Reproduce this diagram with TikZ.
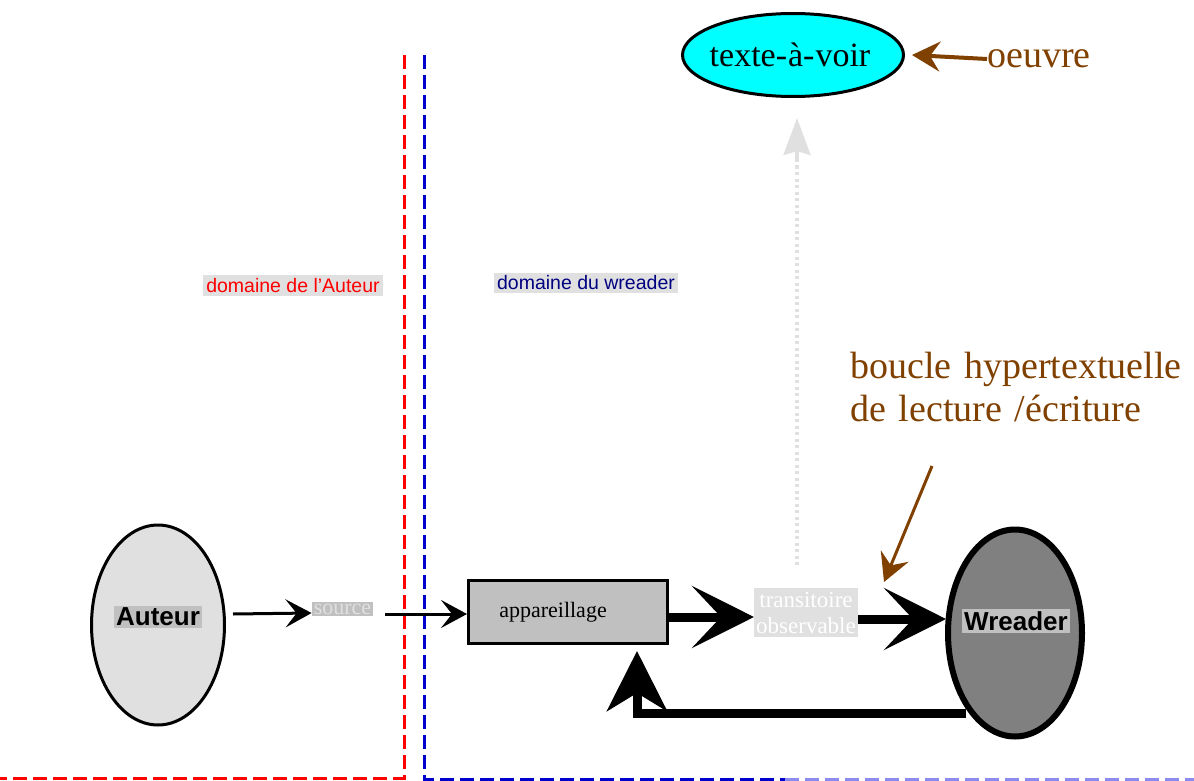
\documentclass[tikz,border=0pt]{standalone}
\usepackage{fontspec}
\setmainfont{Liberation Serif}
\setsansfont{Liberation Sans}
\usetikzlibrary{arrows.meta,shapes.geometric,calc}
\definecolor{lightg}{HTML}{E0E0E0}
\definecolor{midg}{HTML}{C0C0C0}
\definecolor{darkg}{HTML}{808080}
\definecolor{brun}{HTML}{804000}
\definecolor{marine}{HTML}{000080}
\definecolor{bleu}{HTML}{0000CC}
\definecolor{bleupale}{HTML}{8C8CF0}
\definecolor{turquoise}{HTML}{00FFFF}
\newcommand{\fsz}[1]{\fontsize{#1}{#1}\selectfont}
\tikzset{
  frontier/.style={line width=3pt, dash pattern=on 14pt off 6pt},
  thinflow/.style={line width=3pt, -{Stealth[length=26pt,width=28pt,inset=11pt]}},
  thickflow/.style={line width=9pt, -{Stealth[length=62pt,width=62pt,inset=29pt]}},
  backflow/.style={line width=9pt, -{Stealth[length=60pt,width=60pt,inset=18pt]}},
  brownflow/.style={brun, line width=4pt, -{Stealth[length=28pt,width=30pt,inset=10pt]}},
  actor/.style={ellipse, draw, inner sep=0pt},
  actorlbl/.style={inner sep=2pt, font=\sffamily\bfseries\fsz{26}},
  domainlbl/.style={fill=lightg, inner xsep=3pt, inner ysep=3pt, font=\sffamily\fsz{19.5}},
  brownnote/.style={brun, font=\fsz{38}, align=left, inner sep=0pt},
}
\begin{document}
\begin{tikzpicture}[x=1pt,y=-1pt]
\useasboundingbox (0,0) rectangle (1194,781);

% frontiers between the two domains
\draw[frontier, red] (404,55) -- (404,778) -- (0,778);
\draw[frontier, bleu] (424,55) -- (424,779) -- (785,779);
\draw[frontier, bleupale] (785,779) -- (1194,779);

\node[domainlbl, text=red] (domA) at (293,285.5) {domaine de l'Auteur};
\node[domainlbl, text=marine] (domW) at (586,283) {domaine du wreader};

% actors
\node[actor, line width=3pt, fill=lightg, minimum width=133pt, minimum height=200pt] (auteur) at (158,625) {};
\node[actorlbl, fill=midg] (auteurlbl) at (158,617) {Auteur};
\node[actor, line width=6pt, fill=darkg, minimum width=134pt, minimum height=207pt] (wreader) at (1015,633) {};
\node[actorlbl, fill=midg] (wreaderlbl) at (1016,621) {Wreader};

% intermediate objects
\node[fill=midg, inner sep=2pt, text=lightg, font=\fsz{22}] (source) at (342.5,609) {source};
\node[draw, line width=3pt, fill=midg, minimum width=199pt, minimum height=63pt, inner sep=0pt] (box) at (568,612) {};
\node[font=\fsz{22}, inner sep=0pt] (boxlbl) at (553,612) {appareillage};
\node[fill=lightg, inner xsep=2pt, inner ysep=4pt, text=white, font=\fsz{23}, align=center] (trans) at (806,612.5) {transitoire\\[3pt]observable};

\node[actor, line width=3pt, fill=turquoise, minimum width=221pt, minimum height=83pt] (texte) at (793,55) {};
\node[font=\fsz{34}, inner sep=0pt] (textelbl) at (790,55) {texte-\kern1pt à-\kern1pt voir};

% flows
\draw[thinflow] ($(auteur.east)+(7,-11)$) -- (source.west |- 0,613);
\draw[thinflow] ($(source.east)+(12,5)$) -- (box.west |- 0,614);
\draw[thickflow] (box.east |- 0,617) -- (trans.west |- 0,617);
\draw[thickflow] (trans.east |- 0,619) -- ($(wreader.west)+(1,-14)$);
\coordinate (fb) at (966,713);
\draw[backflow] (fb) -| ([xshift=69pt,yshift=-6pt]box.south);

% dotted link toward the text to be seen
\coordinate (dotfoot) at (797,565);
\coordinate (dottip) at (797,118);
\draw[lightg, line width=4pt, dash pattern=on 3pt off 3.5pt] (dotfoot) -- (797,158);
\draw[lightg, line width=4pt, -{Stealth[length=37pt,width=27pt,inset=4pt]}] (797,160) -- (dottip);

% brown annotations
\node[brownnote, anchor=west] (oeuvre) at (987,59) {oeuvre};
\draw[brownflow] (oeuvre.west) -- ([xshift=7pt]texte.east);
\node[brownnote, anchor=north west, text width=345pt] (boucle) at (850,352)
  {boucle hypertextuelle\\[5pt]de lecture /écriture};
\coordinate (bouclefoot) at (932,466);
\coordinate (boucletip) at (884,582);
\draw[brownflow, line width=3pt] (bouclefoot) -- (boucletip);
\end{tikzpicture}
\end{document}
